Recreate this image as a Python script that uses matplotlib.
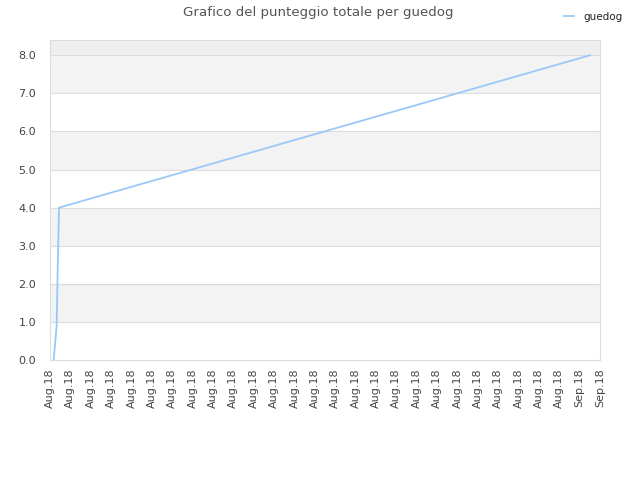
import numpy as np
import matplotlib
matplotlib.use("Agg")
import matplotlib.pyplot as plt
import matplotlib.dates as mdates
from datetime import datetime, timedelta

# punteggio cumulativo di guedog
times = [datetime(2018, 8, 6, 4, 20),
         datetime(2018, 8, 6, 7, 50),
         datetime(2018, 8, 6, 9, 10),
         datetime(2018, 8, 6, 10, 40),
         datetime(2018, 9, 1, 12, 15)]
scores = [0.0, 0.9, 2.5, 4.0, 8.0]

tick_dates = [datetime(2018, 8, 6) + timedelta(days=i) for i in range(28)]
y_ticks = [0, 1, 2, 3, 4, 5, 6, 7, 8]

fig = plt.figure(figsize=(6.4, 4.8), dpi=100)
ax = fig.add_axes([50 / 640, 120 / 480, 550 / 640, 320 / 480])

ax.set_xlim(tick_dates[0], tick_dates[-1])
ax.set_ylim(0, 8.4)

# bande alternate
for y0 in y_ticks:
    if y0 % 2 == 1:
        ax.axhspan(y0, y0 + 1, color="#f3f3f3", lw=0, zorder=0)
ax.axhspan(8, 8.4, color="#efefef", lw=0, zorder=0)
for y0 in y_ticks[1:]:
    ax.axhline(y0, color="#dddddd", lw=0.8, zorder=1)

ax.plot(times, scores, color="#99c9f7", lw=1.3, label="guedog", zorder=3)

ax.set_yticks(y_ticks)
ax.set_yticklabels(["%.1f" % v for v in y_ticks])
ax.set_xticks(tick_dates)
ax.xaxis.set_major_formatter(mdates.DateFormatter("%b.%y"))
ax.tick_params(axis="x", rotation=90, labelsize=8, length=0, pad=6, colors="#444444")
ax.tick_params(axis="y", labelsize=8, length=0, pad=10, colors="#444444")

for side in ["top", "right", "left", "bottom"]:
    ax.spines[side].set_color("#dddddd")
    ax.spines[side].set_linewidth(0.8)

fig.text(0.497, 0.974, "Grafico del punteggio totale per guedog", ha="center",
         va="center", fontsize=9.6, color="#555555")
fig.legend(loc="upper right", bbox_to_anchor=(0.988, 0.995), frameon=False,
           fontsize=7.5, handlelength=1.0, handletextpad=0.9, labelcolor="#222222")

fig.savefig("out.png", dpi=100)
